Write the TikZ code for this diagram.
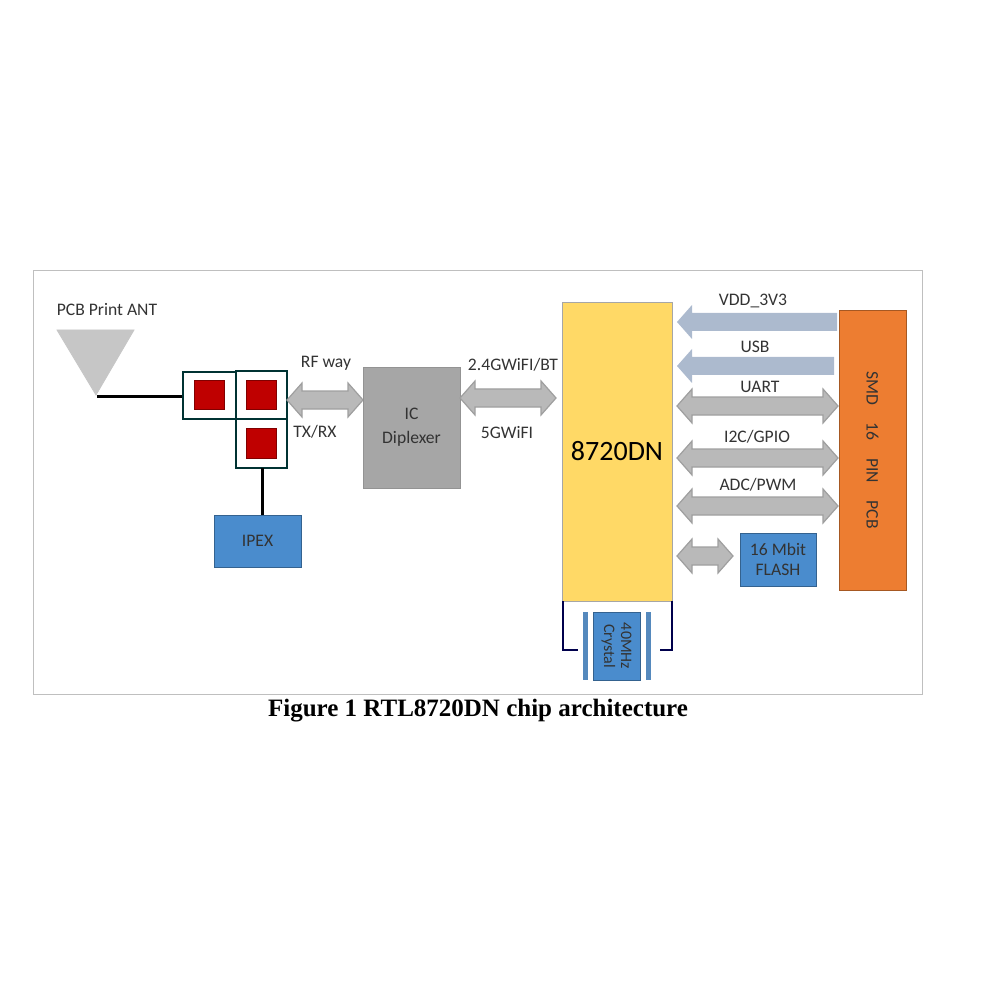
\documentclass[tikz,border=0pt]{standalone}
\usepackage{fontspec}
\setmainfont{Liberation Serif}
\newfontfamily\labelfont{Carlito}
\usetikzlibrary{positioning}

\definecolor{powerblue}{RGB}{172,186,206}
\definecolor{boxblue}{RGB}{74,140,205}
\definecolor{smdorange}{RGB}{237,125,49}
\definecolor{mcuyellow}{RGB}{255,217,102}

% bus arrows: left end, right end, height
\newcommand{\busdouble}[3]{%
  \filldraw [bus] (#1, #3) -- ++(15, -17) -- ++(0, 8) -- (#2-15, #3-9) -- ++(0, -8)
    -- (#2, #3) -- ++(-15, 17) -- ++(0, -8) -- (#1+15, #3+9) -- ++(0, 8) -- cycle;}
\newcommand{\busleft}[3]{%
  \filldraw [power] (#1, #3) -- ++(15, -17) -- ++(0, 8) -- (#2, #3-9) -- (#2, #3+9)
    -- (#1+15, #3+9) -- ++(0, 8) -- cycle;}

\tikzset{
  lbl/.style = {font = \labelfont\fontsize{8.8}{10}\selectfont, text = black!80},
  bus/.style = {fill = gray!55, draw = gray!75, line width = 0.6pt},
  power/.style = {fill = powerblue, draw = none},
  pad/.style = {draw = teal!40!black, line width = 0.6pt},
  chip/.style = {fill = red!75!black, draw = red!50!black},
  bluebox/.style = {fill = boxblue, draw = boxblue!70!black}
}

\begin{document}
\begin{tikzpicture}[x = 0.5pt, y = -0.5pt]
\useasboundingbox (0, 0) rectangle (983, 983);

	% Frame

	\draw [gray!50] (33, 270) rectangle (922, 694);

	% Antenna

	\filldraw [fill = gray!45, draw = gray!45] (57, 330) -- (134, 330) -- (96, 395) -- cycle;
	\node [lbl] (ant) at (107, 310) {PCB Print ANT};
	\draw [line width = 1.5pt] (97, 396) -- (183, 396);

	% Switch pads

	\draw [pad] (183, 372) rectangle (236, 419);
	\draw [pad] (236, 371) rectangle (287, 419);
	\draw [pad] (236, 419) rectangle (287, 468);
	\filldraw [chip] (194, 380) rectangle (224, 409);
	\filldraw [chip] (246, 380) rectangle (276, 409);
	\filldraw [chip] (246, 428) rectangle (276, 458);

	% IPEX

	\draw [line width = 1.5pt] (262, 468) -- (262, 515);
	\node [bluebox, minimum width = 43.5pt, minimum height = 26pt, lbl] (ipex) at (257.5, 541) {IPEX};

	% Diplexer

	\busdouble{287}{363}{400}
	\node [lbl] (rf) at (326, 363) {RF way};
	\node [lbl] (txrx) at (315, 432) {TX/RX};
	\node [fill = gray!70, draw = gray!85, minimum width = 48.5pt, minimum height = 60.5pt,
	       lbl, align = center] (dip) at (411.5, 427.5) {IC\\[2pt]Diplexer};

	\busdouble{460}{556}{398}
	\node [lbl] (wifi) at (513, 365) {2.4GWiFI/BT};
	\node [lbl] (wifi5) at (507, 433) {5GWiFI};

	% Main chip

	\node [fill = mcuyellow, draw = gray!70, minimum width = 55pt, minimum height = 149.5pt,
	       font = \labelfont\fontsize{14}{15}\selectfont] (mcu) at (617, 451.5) {8720DN};

	% Interfaces

	\busleft{677}{837}{322}
	\node [lbl] (vdd) at (753, 301) {VDD\_3V3};
	\busleft{677}{834}{366}
	\node [lbl] (usb) at (755, 347) {USB};
	\busdouble{677}{838}{406}
	\node [lbl] (uart) at (760, 387) {UART};
	\busdouble{677}{838}{458}
	\node [lbl] (i2c) at (757, 437) {I2C/GPIO};
	\busdouble{677}{838}{506}
	\node [lbl] (adc) at (758, 485) {ADC/PWM};

	\node [fill = smdorange, draw = smdorange!70!black, minimum width = 33.5pt, minimum height = 140pt] (smd) at (872.5, 450) {};
	\node [lbl, rotate = -90] at (smd) {SMD\quad 16\quad PIN\quad PCB};

	% Flash

	\busdouble{677}{733}{556}
	\node [bluebox, minimum width = 38pt, minimum height = 26.5pt, lbl, align = center] (flash) at (778, 559.5) {16 Mbit\\FLASH};

	% Crystal

	\draw [blue!30!black, line width = 0.8pt] (563, 601) -- (563, 650) -- (578, 650);
	\draw [blue!30!black, line width = 0.8pt] (672, 601) -- (672, 650) -- (660, 650);
	\fill [boxblue!80!gray] (583, 612) rectangle (588, 680);
	\fill [boxblue!80!gray] (646, 612) rectangle (651, 680);
	\node [bluebox, minimum width = 23.5pt, minimum height = 34pt] (xtal) at (616.5, 646) {};
	\node [lbl, rotate = -90, align = center, font = \labelfont\fontsize{8}{8.5}\selectfont] at (xtal) {40MHz\\Crystal};

	% Caption

	\node [font = \bfseries\fontsize{12.5}{14}\selectfont] (cap) at (478, 711) {Figure 1 RTL8720DN chip architecture};

\end{tikzpicture}
\end{document}
